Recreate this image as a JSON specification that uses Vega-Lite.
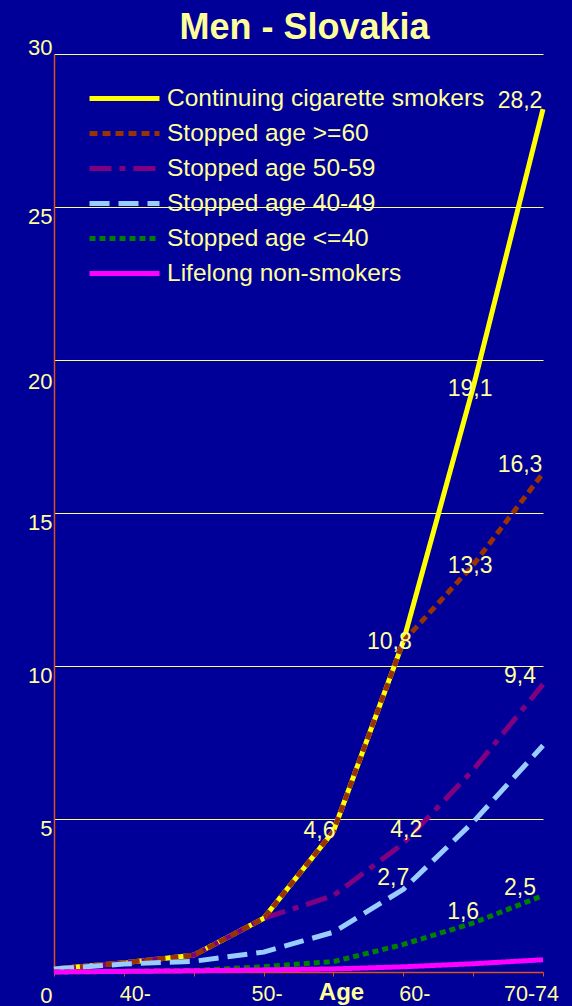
{
  "$schema": "https://vega.github.io/schema/vega-lite/v6.json",
  "width": 489,
  "height": 918,
  "autosize": {"type": "none"},
  "padding": {"left": 54, "top": 54, "right": 29, "bottom": 34},
  "background": "#000099",
  "config": {"font": "Liberation Sans", "view": {"stroke": null}},
  "title": {"text": "Men - Slovakia", "fontSize": 36, "fontWeight": "bold", "color": "#FFFF99", "font": "Liberation Sans", "anchor": "middle", "frame": "group", "dx": 6, "offset": -11},
  "data": {"values": [
    {"series": "Continuing cigarette smokers", "age": "35-39", "rate": 0.1},
    {"series": "Continuing cigarette smokers", "age": "40-44", "rate": 0.3},
    {"series": "Continuing cigarette smokers", "age": "45-49", "rate": 0.55},
    {"series": "Continuing cigarette smokers", "age": "50-54", "rate": 1.75},
    {"series": "Continuing cigarette smokers", "age": "55-59", "rate": 4.6, "lab": "4,6"},
    {"series": "Continuing cigarette smokers", "age": "60-64", "rate": 10.8, "lab": "10,8"},
    {"series": "Continuing cigarette smokers", "age": "65-69", "rate": 19.1, "lab": "19,1"},
    {"series": "Continuing cigarette smokers", "age": "70-74", "rate": 28.2, "lab": "28,2"},
    {"series": "Stopped age 50-59", "age": "35-39", "rate": 0.1},
    {"series": "Stopped age 50-59", "age": "40-44", "rate": 0.3},
    {"series": "Stopped age 50-59", "age": "45-49", "rate": 0.55},
    {"series": "Stopped age 50-59", "age": "50-54", "rate": 1.75},
    {"series": "Stopped age 50-59", "age": "55-59", "rate": 2.5},
    {"series": "Stopped age 50-59", "age": "60-64", "rate": 4.2, "lab": "4,2"},
    {"series": "Stopped age 50-59", "age": "65-69", "rate": 6.6},
    {"series": "Stopped age 50-59", "age": "70-74", "rate": 9.4, "lab": "9,4"},
    {"series": "Stopped age >=60", "age": "35-39", "rate": 0.1},
    {"series": "Stopped age >=60", "age": "40-44", "rate": 0.3},
    {"series": "Stopped age >=60", "age": "45-49", "rate": 0.55},
    {"series": "Stopped age >=60", "age": "50-54", "rate": 1.75},
    {"series": "Stopped age >=60", "age": "55-59", "rate": 4.6},
    {"series": "Stopped age >=60", "age": "60-64", "rate": 10.8},
    {"series": "Stopped age >=60", "age": "65-69", "rate": 13.3, "lab": "13,3"},
    {"series": "Stopped age >=60", "age": "70-74", "rate": 16.3, "lab": "16,3"},
    {"series": "Stopped age 40-49", "age": "35-39", "rate": 0.1},
    {"series": "Stopped age 40-49", "age": "40-44", "rate": 0.26},
    {"series": "Stopped age 40-49", "age": "45-49", "rate": 0.35},
    {"series": "Stopped age 40-49", "age": "50-54", "rate": 0.65},
    {"series": "Stopped age 40-49", "age": "55-59", "rate": 1.3},
    {"series": "Stopped age 40-49", "age": "60-64", "rate": 2.7, "lab": "2,7"},
    {"series": "Stopped age 40-49", "age": "65-69", "rate": 4.9},
    {"series": "Stopped age 40-49", "age": "70-74", "rate": 7.4},
    {"series": "Stopped age <=40", "age": "35-39", "rate": 0},
    {"series": "Stopped age <=40", "age": "40-44", "rate": 0.02},
    {"series": "Stopped age <=40", "age": "45-49", "rate": 0.05},
    {"series": "Stopped age <=40", "age": "50-54", "rate": 0.17},
    {"series": "Stopped age <=40", "age": "55-59", "rate": 0.34},
    {"series": "Stopped age <=40", "age": "60-64", "rate": 0.9},
    {"series": "Stopped age <=40", "age": "65-69", "rate": 1.6, "lab": "1,6"},
    {"series": "Stopped age <=40", "age": "70-74", "rate": 2.5, "lab": "2,5"},
    {"series": "Lifelong non-smokers", "age": "35-39", "rate": 0},
    {"series": "Lifelong non-smokers", "age": "40-44", "rate": 0.02},
    {"series": "Lifelong non-smokers", "age": "45-49", "rate": 0.04},
    {"series": "Lifelong non-smokers", "age": "50-54", "rate": 0.07},
    {"series": "Lifelong non-smokers", "age": "55-59", "rate": 0.1},
    {"series": "Lifelong non-smokers", "age": "60-64", "rate": 0.17},
    {"series": "Lifelong non-smokers", "age": "65-69", "rate": 0.27},
    {"series": "Lifelong non-smokers", "age": "70-74", "rate": 0.4}
  ]},
  "encoding": {
    "x": {
      "field": "age", "type": "ordinal",
      "scale": {"type": "point", "padding": 0},
      "axis": {
        "title": "Age", "titleFontSize": 24, "titleFontWeight": "bold", "titleColor": "#FFFF99",
        "titleX": 287, "titleY": 27, "titleAlign": "center", "titleBaseline": "alphabetic", "titleAnchor": null,
        "labelExpr": "datum.value == '40-44' ? '40-' : datum.value == '50-54' ? '50-' : datum.value == '60-64' ? '60-' : datum.value == '70-74' ? '70-74' : ''",
        "labelAngle": 0, "labelFontSize": 21.5, "labelColor": "#FFFF99", "labelOverlap": false, "labelBound": false,
        "labelBaseline": "alphabetic", "labelPadding": 24,
        "labelOffset": {"condition": [{"test": "datum.value == '70-74'", "value": -12}, {"test": "datum.value == '50-54'", "value": 3}], "value": 11},
        "domainColor": "#D9531A", "domainWidth": 1.5, "tickColor": "#D9531A", "tickSize": 4, "tickWidth": 1, "grid": false
      }
    },
    "y": {
      "field": "rate", "type": "quantitative",
      "scale": {"domain": [0, 30], "nice": false},
      "axis": {
        "title": null, "values": [0, 5, 10, 15, 20, 25, 30], "grid": true, "gridColor": "#FFFF99", "gridWidth": 1.2,
        "gridOpacity": {"condition": {"test": "datum.value == 0", "value": 0}, "value": 1},
        "ticks": false, "labelPadding": 2, "labelFontSize": 22, "labelColor": "#FFFF99", "labelBaseline": "middle",
        "labelOffset": {"condition": [{"test": "datum.value == 30", "value": -7}, {"test": "datum.value == 20", "value": 21}, {"test": "datum.value == 0", "value": 23}], "value": 9},
        "domainColor": "#D9531A", "domainWidth": 1.5
      }
    }
  },
  "layer": [
    {
      "mark": {"type": "line", "strokeCap": "butt", "strokeJoin": "round"},
      "encoding": {
        "color": {
          "field": "series", "type": "nominal",
          "scale": {"domain": ["Continuing cigarette smokers", "Stopped age >=60", "Stopped age 50-59", "Stopped age 40-49", "Stopped age <=40", "Lifelong non-smokers"],
                    "range": ["#FFFF00", "#993300", "#800080", "#99CCFF", "#008000", "#FF00FF"]},
          "legend": {"orient": "none", "legendX": 58, "legendY": 32, "title": null, "direction": "vertical",
                     "symbolType": "M-3.5,0H3.5", "symbolSize": 400, "labelFontSize": 24.5, "labelColor": "#FFFF99",
                     "labelFont": "Liberation Sans", "labelOffset": 30, "rowPadding": 10, "padding": 0, "labelLimit": 500}
        },
        "strokeDash": {
          "field": "series", "type": "nominal",
          "scale": {"domain": ["Continuing cigarette smokers", "Stopped age >=60", "Stopped age 50-59", "Stopped age 40-49", "Stopped age <=40", "Lifelong non-smokers"],
                    "range": [[1, 0], [8, 5], [22, 8, 6, 8], [20, 9], [6, 4], [1, 0]]}
        },
        "strokeWidth": {
          "field": "series", "type": "nominal",
          "scale": {"domain": ["Continuing cigarette smokers", "Stopped age >=60", "Stopped age 50-59", "Stopped age 40-49", "Stopped age <=40", "Lifelong non-smokers"],
                    "range": [5, 5, 6, 7, 7, 5]}
        }
      }
    },
    {
      "transform": [{"filter": "datum.lab == '28,2' || datum.lab == '16,3' || datum.lab == '9,4' || datum.lab == '2,5'"}],
      "mark": {"type": "text", "dx": -23, "dy": -8, "fontSize": 23, "fill": "#FFFF99", "align": "center", "baseline": "middle"},
      "encoding": {"text": {"field": "lab"}}
    },
    {
      "transform": [{"filter": "datum.lab == '19,1' || datum.lab == '13,3'"}],
      "mark": {"type": "text", "dx": -3, "dy": 1, "fontSize": 23, "fill": "#FFFF99", "align": "center", "baseline": "middle"},
      "encoding": {"text": {"field": "lab"}}
    },
    {
      "transform": [{"filter": "datum.lab == '10,8' || datum.lab == '4,6'"}],
      "mark": {"type": "text", "dx": -14, "dy": 0, "fontSize": 23, "fill": "#FFFF99", "align": "center", "baseline": "middle"},
      "encoding": {"text": {"field": "lab"}}
    },
    {
      "transform": [{"filter": "datum.lab == '4,2'"}],
      "mark": {"type": "text", "dx": 3, "dy": -13, "fontSize": 23, "fill": "#FFFF99", "align": "center", "baseline": "middle"},
      "encoding": {"text": {"field": "lab"}}
    },
    {
      "transform": [{"filter": "datum.lab == '2,7' || datum.lab == '1,6'"}],
      "mark": {"type": "text", "dx": -10, "dy": -11, "fontSize": 23, "fill": "#FFFF99", "align": "center", "baseline": "middle"},
      "encoding": {"text": {"field": "lab"}}
    }
  ]
}
